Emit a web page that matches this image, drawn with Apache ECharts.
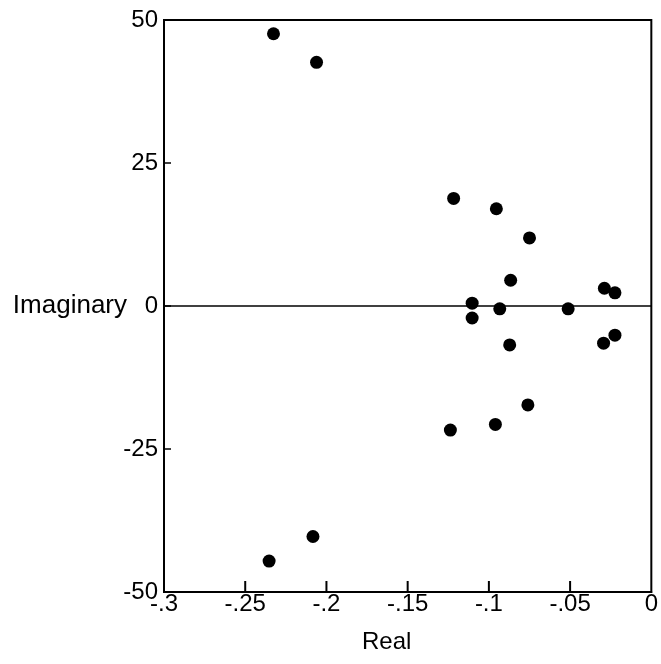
<!DOCTYPE html>
<html>
<head>
<meta charset="utf-8">
<script src="https://cdn.jsdelivr.net/npm/echarts@6/dist/echarts.min.js"></script>
<style>
html,body{margin:0;padding:0;background:#fff;}
#chart{width:661px;height:664px;}
</style>
</head>
<body>
<div id="chart"></div>
<script>
// Real parts of the roots
var realParts = [-0.1217, -0.0954, -0.0750, -0.0866, -0.0289, -0.0224, -0.1103, -0.1103,
                 -0.0933, -0.0512, -0.0224, -0.0294, -0.0872, -0.0760, -0.0960, -0.1237,
                 -0.2326, -0.2061, -0.2083, -0.2353];
// Imaginary parts of the roots
var imagParts = [18.8, 17.0, 11.9, 4.5, 3.1, 2.3, 0.5, -2.1,
                 -0.5, -0.5, -5.1, -6.5, -6.8, -17.3, -20.7, -21.7,
                 47.6, 42.6, -40.3, -44.6];
var xTickLabels = ['-.3', '-.25', '-.2', '-.15', '-.1', '-.05', '0'];
var xInnerTicks = [-0.25, -0.2, -0.15, -0.1, -0.05];
var yTickLabels = ['-50', '-25', '0', '25', '50'];
var xName = 'Real';
var yName = 'Imaginary';

var X_MIN = -0.3, X_MAX = 0, Y_MIN = -50, Y_MAX = 50;
var points = realParts.map(function (r, i) { return [r, imagParts[i]]; });
var tickMarks = xInnerTicks.map(function (v) { return [v, Y_MIN]; });

var font = 'Liberation Sans, Arial, Helvetica, sans-serif';
var chart = echarts.init(document.getElementById('chart'));
chart.setOption({
  animation: false,
  backgroundColor: '#fff',
  grid: {
    left: 164, right: 9, top: 20, bottom: 72,
    show: true, borderColor: '#000', borderWidth: 2, backgroundColor: 'transparent'
  },
  xAxis: {
    type: 'value', min: X_MIN, max: X_MAX, interval: 0.05,
    name: xName, nameLocation: 'middle', nameGap: 38, nameMoveOverlap: false,
    nameTextStyle: { fontFamily: font, fontSize: 24, color: '#000', padding: [0, 42, 0, 0] },
    axisLine: { show: true, onZero: false, lineStyle: { color: '#000', width: 2 } },
    axisTick: { show: false },
    splitLine: { show: false },
    axisLabel: {
      fontFamily: font, fontSize: 24, color: '#000', margin: 0,
      formatter: function (v) { return xTickLabels[Math.round((v - X_MIN) / 0.05)]; }
    }
  },
  yAxis: {
    type: 'value', min: Y_MIN, max: Y_MAX, interval: 25,
    name: yName, nameLocation: 'middle', nameRotate: 0, nameGap: 37, nameMoveOverlap: false,
    nameTextStyle: { fontFamily: font, fontSize: 26, color: '#000', align: 'right', verticalAlign: 'middle' },
    axisLine: { show: true, onZero: false, lineStyle: { color: '#000', width: 2 } },
    axisTick: { show: true, inside: true, length: 7, lineStyle: { color: '#000', width: 1.5 } },
    splitLine: { show: false },
    axisLabel: {
      fontFamily: font, fontSize: 24, color: '#000', margin: 6,
      formatter: function (v) { return yTickLabels[Math.round((v - Y_MIN) / 25)]; }
    }
  },
  series: [{
    type: 'scatter',
    data: points,
    symbol: 'circle',
    symbolSize: 13,
    itemStyle: { color: '#000', opacity: 1 },
    markLine: {
      silent: true,
      symbol: ['none', 'none'],
      label: { show: false },
      lineStyle: { color: '#000', width: 1.6, type: 'solid', opacity: 1 },
      data: [{ yAxis: 0 }]
    }
  }, {
    // x-axis tick marks rising from the bottom frame
    type: 'scatter',
    data: tickMarks,
    symbol: 'rect',
    symbolSize: [2, 11],
    symbolOffset: [0, -5.5],
    silent: true,
    clip: false,
    z: 5,
    itemStyle: { color: '#000', opacity: 1 }
  }]
});
</script>
</body>
</html>
